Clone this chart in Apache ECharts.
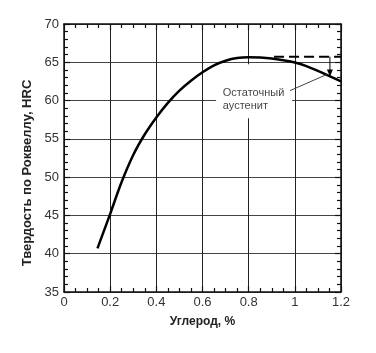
<!DOCTYPE html>
<html>
<head>
<meta charset="utf-8">
<script src="https://cdn.jsdelivr.net/npm/echarts@6/dist/echarts.min.js"></script>
<style>
  html, body { margin: 0; padding: 0; background: #fff; }
  #main { width: 376px; height: 353px; }
</style>
</head>
<body>
<div id="main"></div>
<script>
// углерод, % и твёрдость HRC
var carbon = [0.145, 0.2, 0.25, 0.3, 0.35, 0.4, 0.45, 0.5, 0.55, 0.6, 0.65, 0.7, 0.75, 0.8, 0.85, 0.9, 0.95, 1.0, 1.05, 1.1, 1.15, 1.2];
var hardness = [40.7, 45.2, 49.4, 52.9, 55.6, 57.8, 59.7, 61.3, 62.6, 63.7, 64.6, 65.2, 65.55, 65.65, 65.62, 65.5, 65.27, 64.97, 64.5, 63.88, 63.2, 62.5];

// пунктир (твёрдость без остаточного аустенита) и стрелка
var dashX = [0.91, 1.2];
var dashY = [65.73, 65.73];
var arrowX = [1.152, 1.152];
var arrowY = [65.73, 63.2];
// выноска подписи
var leaderX = [0.979, 1.138];
var leaderY = [61.3, 63.4];
var noteText = ['Остаточный', 'аустенит'];
var notePos = [0.688, 60.2];
var noteBoxX = [0.659, 0.988];
var noteBoxY = [57.7, 64.75];

var font = 'Liberation Sans, Arial, sans-serif';

var chart = echarts.init(document.getElementById('main'), null, { renderer: 'canvas' });

function zip(xs, ys) {
  var out = [];
  for (var i = 0; i < xs.length; i++) out.push([xs[i], ys[i]]);
  return out;
}

var frameAxis = {
  type: 'value',
  min: 0, max: 1.2, interval: 0.2,
  axisLine: { show: true, onZero: false, lineStyle: { color: '#111', width: 1.5 } },
  axisTick: { show: true, inside: true, length: 6, lineStyle: { color: '#111', width: 1.2 } },
  minorTick: { show: true, splitNumber: 4, length: 4, lineStyle: { color: '#111', width: 1.2 } },
  axisLabel: { show: false },
  splitLine: { show: false }
};

var option = {
  backgroundColor: '#ffffff',
  animation: false,
  grid: { left: 64, right: 35, top: 24, bottom: 61 },
  xAxis: [
    Object.assign({}, frameAxis, {
      position: 'bottom',
      name: 'Углерод, %',
      nameLocation: 'middle',
      nameGap: 24,
      nameTextStyle: { fontFamily: font, fontSize: 12, fontWeight: 'bold', color: '#222' },
      axisLabel: { show: true, margin: 4, fontFamily: font, fontSize: 13, color: '#333' },
      splitLine: { show: true, lineStyle: { color: '#222', width: 1 } }
    }),
    Object.assign({}, frameAxis, { position: 'top' })
  ],
  yAxis: [
    Object.assign({}, frameAxis, {
      position: 'left',
      min: 35, max: 70, interval: 5,
      minorTick: { show: true, splitNumber: 5, length: 4, lineStyle: { color: '#111', width: 1.2 } },
      name: 'Твердость по Роквеллу, HRC',
      nameLocation: 'middle',
      nameGap: 27,
      nameTextStyle: { fontFamily: font, fontSize: 13, fontWeight: 'bold', color: '#222', padding: [0, 30, 0, 0] },
      axisLabel: { show: true, margin: 5, fontFamily: font, fontSize: 13, color: '#333' },
      splitLine: { show: true, lineStyle: { color: '#444', width: 1 } }
    }),
    Object.assign({}, frameAxis, {
      position: 'right',
      min: 35, max: 70, interval: 5,
      minorTick: { show: true, splitNumber: 5, length: 4, lineStyle: { color: '#111', width: 1.2 } }
    })
  ],
  series: [
    {
      type: 'line',
      data: zip(carbon, hardness),
      smooth: 0.35,
      showSymbol: false,
      lineStyle: { color: '#000', width: 2.5 },
      z: 5,
      // белая подложка под подписью
      markArea: {
        silent: true,
        itemStyle: { color: '#fff' },
        data: [[{ coord: [noteBoxX[0], noteBoxY[1]] }, { coord: [noteBoxX[1], noteBoxY[0]] }]]
      }
    },
    {
      type: 'line',
      data: zip(dashX, dashY),
      showSymbol: false,
      lineStyle: { color: '#000', width: 2, type: [10, 5] },
      z: 5
    },
    {
      type: 'line',
      data: zip(arrowX, arrowY),
      showSymbol: false,
      lineStyle: { color: '#000', width: 1 },
      z: 5,
      markPoint: {
        symbol: 'triangle',
        symbolSize: [6, 7],
        symbolRotate: 180,
        symbolOffset: [0, -3],
        itemStyle: { color: '#000' },
        label: { show: false },
        data: [{ coord: [arrowX[1], arrowY[1]] }]
      }
    },
    {
      type: 'line',
      data: zip(leaderX, leaderY),
      showSymbol: false,
      lineStyle: { color: '#444', width: 1 },
      z: 5
    },
    {
      type: 'scatter',
      data: [notePos],
      symbolSize: 0,
      z: 6,
      label: {
        show: true,
        position: 'right',
        distance: 0,
        formatter: noteText.join('\n'),
        fontFamily: font,
        fontSize: 11,
        lineHeight: 13,
        color: '#111',
        align: 'left'
      }
    }
  ]
};

chart.setOption(option);
</script>
</body>
</html>
